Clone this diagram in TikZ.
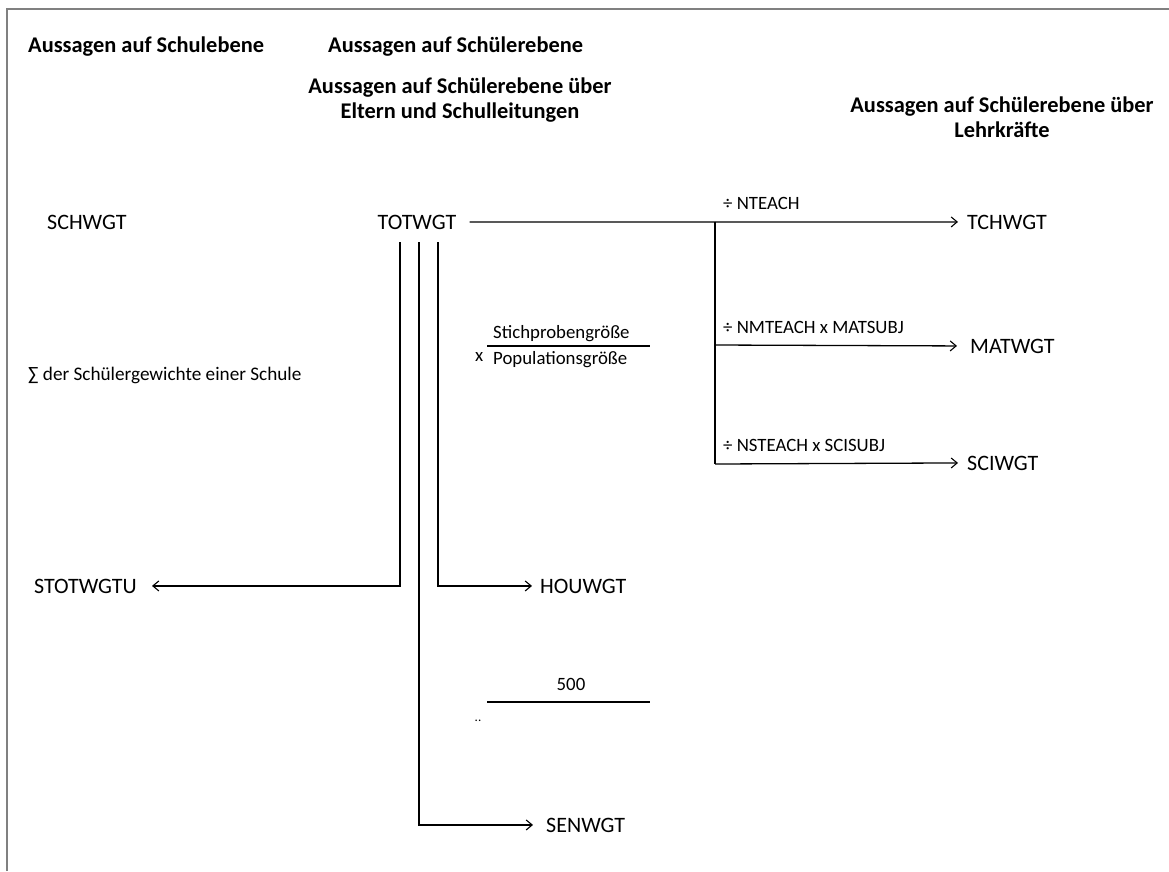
\documentclass[tikz,border=0pt]{standalone}
\usepackage{fontspec}
\setmainfont{Carlito}
\usetikzlibrary{arrows.meta}
\tikzset{
  lbl/.style={inner sep=0pt, font=\fontsize{22}{24}\selectfont},
  head/.style={inner sep=0pt, align=center, font=\fontsize{22.4}{24.5}\selectfont\bfseries},
  small/.style={inner sep=0pt, font=\fontsize{18.8}{20}\selectfont},
  frac/.style={inner sep=0pt, font=\fontsize{18.8}{20}\selectfont},
  conn/.style={line width=1.3pt, black},
  arr/.style={conn, -{Straight Barb[length=6pt,width=10pt,line width=1.1pt]}},
  frame/.style={line width=2pt, black!50}
}
\begin{document}
\begin{tikzpicture}[x=1pt,y=-1pt]
\useasboundingbox (0,0) rectangle (1169,871);
\fill[white] (0,0) rectangle (1169,871);
\draw[frame] (7,871) -- (7,9) -- (1169,9);

% headings
\node[head, anchor=base west] (h1) at (28,52) {Aussagen auf Schulebene};
\node[head, anchor=base west] (h2) at (328,52) {Aussagen auf Schülerebene};
\node[head, anchor=base] (h3) at (460,118) {Aussagen auf Schülerebene über\\Eltern und Schulleitungen};
\node[head, anchor=base] (h4) at (1002,137) {Aussagen auf Schülerebene über\\Lehrkräfte};

% weight nodes
\node[lbl, anchor=base west] (schwgt) at (47,229) {SCHWGT};
\node[lbl, anchor=base] (totwgt) at (417,229) {TOTWGT};
\node[lbl, anchor=base west] (tchwgt) at (967,229) {TCHWGT};
\node[lbl, anchor=base west] (matwgt) at (970,353) {MATWGT};
\node[lbl, anchor=base west] (sciwgt) at (967,470) {SCIWGT};
\node[lbl, anchor=base east] (stotwgtu) at (137,593) {STOTWGTU};
\node[lbl, anchor=base west] (houwgt) at (540,593) {HOUWGT};
\node[lbl, anchor=base west] (senwgt) at (546,832) {SENWGT};

% labels
\node[small, anchor=base west] (l1) at (723,209) {÷ NTEACH};
\node[small, anchor=base west] (l2) at (723,333) {÷ NMTEACH x MATSUBJ};
\node[small, anchor=base west] (l3) at (723,451) {÷ NSTEACH x SCISUBJ};
\node[frac, anchor=base west, font=\fontsize{19.2}{22}\selectfont] (sum) at (28,380) {∑ der Schülergewichte einer Schule};

% fraction
\node[frac, anchor=base west] (fx) at (475,361) {x};
\node[frac, anchor=base west] (num) at (493,338) {Stichprobengröße};
\node[frac, anchor=base west] (den) at (493,364) {Populationsgröße};
\draw[conn] (487,346) -- (650,346);

\node[frac, anchor=base] (five) at (571,690) {500};
\draw[conn] (487,702) -- (650,702);
\node[inner sep=0pt, font=\fontsize{13}{14}\selectfont] (dots) at (478,721) {..};

% connectors
\coordinate (b1) at (715,222);
\coordinate (b2) at (715,345);
\coordinate (b3) at (715,464);
\draw[conn] ([xshift=13pt]totwgt.east) -- (b1);
\draw[arr] (b1) -- ([xshift=-9pt]tchwgt.west);
\draw[conn] (b1) -- (b3);
\draw[arr] (b2) -- ([xshift=-13pt]matwgt.west);
\draw[arr] (b3) -- ([xshift=-9pt]sciwgt.west);

\draw[arr] ([xshift=-17pt,yshift=-13pt]totwgt.south) |- ([xshift=15pt]stotwgtu.east);
\draw[arr] ([xshift=21pt,yshift=-13pt]totwgt.south) |- ([xshift=-8pt]houwgt.west);
\draw[arr] ([xshift=2pt,yshift=-13pt]totwgt.south) |- ([xshift=-13pt]senwgt.west);
\end{tikzpicture}
\end{document}
